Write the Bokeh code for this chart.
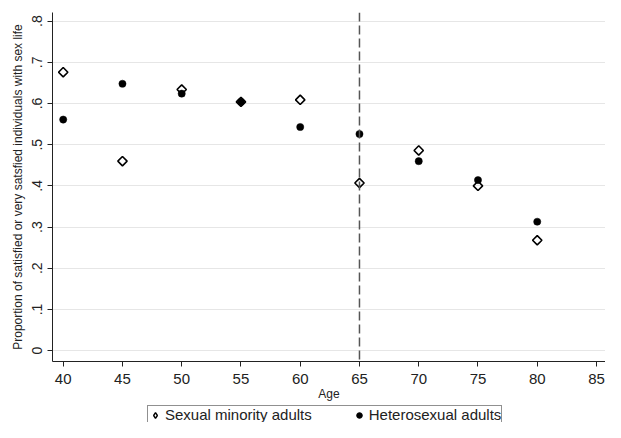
from bokeh.plotting import figure
from bokeh.layouts import column
from bokeh.models import (Range1d, FixedTicker, Span, Legend, LegendItem, ColumnDataSource)
from bokeh.embed import file_html
from bokeh.resources import INLINE

# ---- data ----
ages = [40, 45, 50, 55, 60, 65, 70, 75, 80]
minority = [0.676, 0.460, 0.634, 0.604, 0.609, 0.407, 0.486, 0.400, 0.268]
hetero = [0.561, 0.648, 0.624, 0.604, 0.543, 0.526, 0.460, 0.414, 0.313]
x_ticks = [40, 45, 50, 55, 60, 65, 70, 75, 80, 85]
y_ticks = [0, 0.1, 0.2, 0.3, 0.4, 0.5, 0.6, 0.7, 0.8]
y_tick_labels = ["0", ".1", ".2", ".3", ".4", ".5", ".6", ".7", ".8"]
cutoff_age = 65
series_labels = ["Sexual minority adults", "Heterosexual adults"]
x_title = "Age"
y_title = "Proportion of satisfied or very satsfied individuals with sex life"

FONT = "Liberation Sans"

p = figure(width=605, height=403, output_backend="svg", toolbar_location=None,
           x_range=Range1d(39.097, 85.76), y_range=Range1d(-0.0264, 0.821),
           min_border_left=52, min_border_right=0, min_border_top=12,
           min_border_bottom=41)
p.outline_line_color = None
p.background_fill_color = "white"

src = ColumnDataSource(dict(age=ages, minority=minority, hetero=hetero))

p.scatter("age", "minority", source=src, marker="square", angle=0.785398,
          size=6.6, fill_color=None, line_color="black", line_width=1.6)
p.scatter("age", "hetero", source=src, marker="circle", size=7.2,
          fill_color="black", line_color="black", line_width=0.5)

p.add_layout(Span(location=cutoff_age, dimension="height", line_color="#555555",
                  line_width=1.5, line_dash="9 4"))

# axes
p.xaxis.ticker = FixedTicker(ticks=x_ticks)
p.yaxis.ticker = FixedTicker(ticks=y_ticks)
p.yaxis.major_label_overrides = {t: l for t, l in zip(y_ticks, y_tick_labels)}
p.yaxis.major_label_orientation = "vertical"
for ax in (p.xaxis[0], p.yaxis[0]):
    ax.axis_line_color = "#222222"
    ax.axis_line_width = 1
    ax.major_tick_line_color = "#222222"
    ax.major_tick_in = 0
    ax.major_tick_out = 5
    ax.minor_tick_line_color = None
    ax.major_label_text_font = FONT
    ax.major_label_text_color = "#222222"
    ax.axis_label_text_font = FONT
    ax.axis_label_text_font_style = "normal"
    ax.axis_label_text_color = "#222222"
p.xaxis.major_label_text_font_size = "15px"
p.yaxis.major_label_text_font_size = "14px"
p.xaxis.major_label_standoff = 7
p.xaxis.axis_label_standoff = 0
p.xaxis.axis_label_text_font_size = "12px"
p.yaxis.major_label_standoff = 5
p.yaxis.axis_label_standoff = 5
p.yaxis.axis_label_text_font_size = "12px"
p.xaxis.axis_label = x_title
p.yaxis.axis_label = y_title

p.xgrid.grid_line_color = None
p.ygrid.grid_line_color = "#e6e6e6"
p.ygrid.grid_line_width = 1

# ---- legend strip (separate figure below the chart; its data lie outside its view) ----
lg = figure(width=605, height=19, output_backend="svg", toolbar_location=None,
            x_axis_type=None, y_axis_type=None,
            x_range=Range1d(0, 1), y_range=Range1d(0, 1),
            min_border_left=0, min_border_right=0, min_border_top=0, min_border_bottom=0)
lg.outline_line_color = None
lg.xgrid.grid_line_color = None
lg.ygrid.grid_line_color = None
l_min = lg.scatter("age", "minority", source=src, marker="diamond", size=9,
                   fill_color=None, line_color="black", line_width=1.4)
l_het = lg.scatter("age", "hetero", source=src, marker="circle", size=6,
                   fill_color="black", line_color="black")

legend = Legend(items=[LegendItem(label=series_labels[0], renderers=[l_min]),
                       LegendItem(label=series_labels[1], renderers=[l_het])],
                orientation="horizontal", location=(95, -2))
legend.border_line_color = "#222222"
legend.border_line_width = 1
legend.background_fill_color = "white"
legend.background_fill_alpha = 1
legend.label_text_font = FONT
legend.label_text_font_size = "15px"
legend.label_text_color = "#222222"
legend.label_height = 14
legend.glyph_height = 14
legend.glyph_width = 14
legend.padding = 0
legend.spacing = 40
legend.label_standoff = 3
legend.margin = 0
lg.add_layout(legend, "center")

open("out.html", "w").write(file_html(column(p, lg, spacing=0), INLINE))
